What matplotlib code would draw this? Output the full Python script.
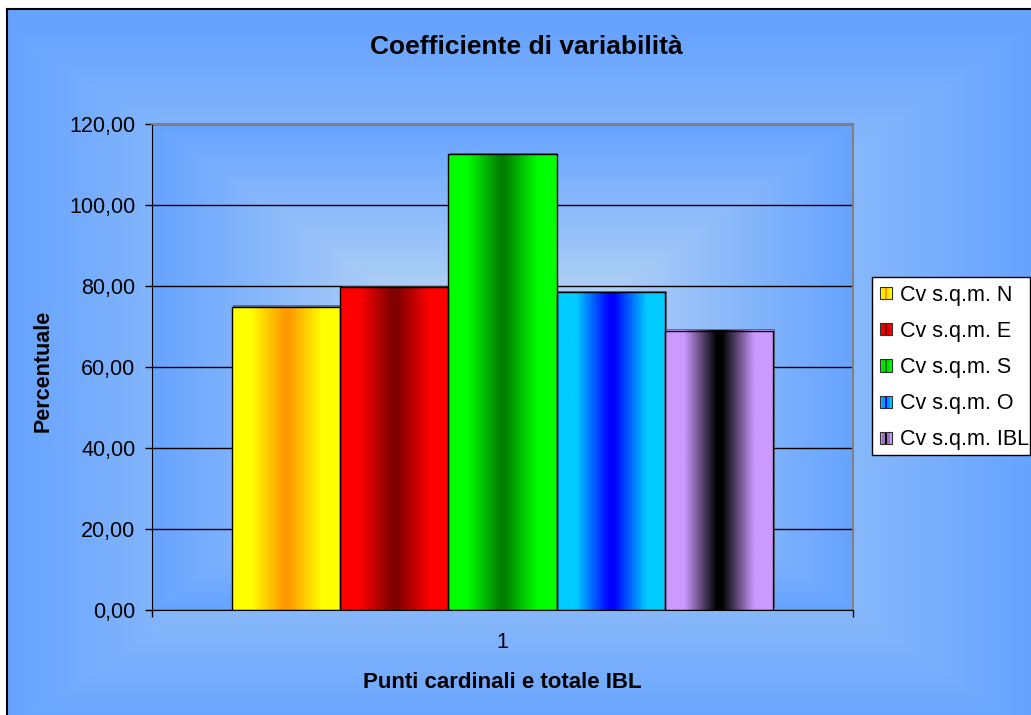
import numpy as np
import matplotlib
matplotlib.use('Agg')
import matplotlib.pyplot as plt
import matplotlib.colors as mcolors
import matplotlib.patheffects as pe
from matplotlib.legend_handler import HandlerBase
from matplotlib.patches import Patch, Rectangle
from matplotlib.ticker import FuncFormatter

# data
series = ['Cv s.q.m. N', 'Cv s.q.m. E', 'Cv s.q.m. S', 'Cv s.q.m. O', 'Cv s.q.m. IBL']
values = [74.8, 79.7, 112.5, 78.4, 68.9]
category = ['1']
yticks = [0, 20, 40, 60, 80, 100, 120]
edge_cols = ['#FFFF00', '#FF0000', '#00FF00', '#00CCFF', '#CC99FF']
mid_cols = ['#FF9900', '#800000', '#008000', '#0000FF', '#000000']

plt.rcParams['font.family'] = ['Liberation Sans', 'DejaVu Sans']

W, H = 1031, 715
fig = plt.figure(figsize=(W / 100, H / 100), dpi=100)
fig.patch.set_facecolor('white')


def box_gradient(w, h, inner, outer, cx=None, cy=None):
    # Excel-like "from centre" fill: rectangular contours
    cx = w / 2 if cx is None else cx
    cy = h / 2 if cy is None else cy
    yy, xx = np.mgrid[0:h, 0:w] + 0.5
    r = np.maximum(np.abs(xx - cx) / (w / 2), np.abs(yy - cy) / (h / 2))
    r = np.clip(r, 0, 1)[..., None]
    a = np.array(mcolors.to_rgb(inner))
    b = np.array(mcolors.to_rgb(outer))
    return a * (1 - r) + b * r


def bar_gradient(edge, mid, n=200):
    u = np.linspace(0, 1, n)
    t = np.clip((np.abs(u - 0.5) * 2 - 0.05) / 0.6, 0, 1)[:, None]
    a = np.array(mcolors.to_rgb(mid))
    b = np.array(mcolors.to_rgb(edge))
    return (a * (1 - t) + b * t)[None, :, :]


# chart area background
bg = fig.add_axes([0, 0, 1, 1], zorder=-10)
bg.set_xlim(0, W)
bg.set_ylim(H, 0)
bg.axis('off')
bg.imshow(box_gradient(W - 7, H - 9, '#C8E0F4', '#66A3FF', cy=371),
          extent=[7, W, H, 9], aspect='auto', interpolation='bilinear')
bg.plot([7, 7], [H + 5, 9], color='black', lw=1.5)
bg.plot([7, W + 5], [9, 9], color='black', lw=1.5)
# legend box (the legend runs into the right edge of the picture)
bg.add_patch(Rectangle((872, 277), 158, 178, facecolor='white', edgecolor='black', lw=1, zorder=5))

# plot area
ax = fig.add_axes([152 / W, (H - 610) / H, 701 / W, 486 / H])
ax.imshow(box_gradient(701, 486, '#D0E4F2', '#66A3FF'),
          extent=[0.5, 1.5, 0, 120], aspect='auto', zorder=0, interpolation='bilinear')

bw = 0.1546
x = 1 + (np.arange(len(values)) - 2) * bw
shadow = [pe.SimplePatchShadow(offset=(1.2, 1.2), shadow_rgbFace='#505050', alpha=0.7), pe.Normal()]
bars = ax.bar(x, values, bw, color=mid_cols, zorder=2, path_effects=shadow)
for b, e, m in zip(bars, edge_cols, mid_cols):
    ext = [b.get_x(), b.get_x() + b.get_width(), 0, b.get_height()]
    ax.imshow(bar_gradient(e, m), extent=ext, aspect='auto', zorder=2.1, interpolation='bilinear')
ax.bar(x, values, bw, facecolor='none', edgecolor='black', lw=1, zorder=3)

ax.set_xlim(0.5, 1.5)
ax.set_ylim(0, 120)
ax.set_yticks(yticks)
ax.yaxis.set_major_formatter(FuncFormatter(lambda v, p: f'{v:.2f}'.replace('.', ',')))
ax.grid(axis='y', color='black', lw=1)
ax.set_axisbelow(True)
ax.set_xticks([1])
ax.set_xticklabels(category)
ax.set_xticks([0.5, 1.5], minor=True)
ax.tick_params(axis='y', direction='out', length=5, width=1, labelsize=15.5, pad=7)
ax.tick_params(axis='x', which='major', length=0, labelsize=15.5, pad=16)
ax.tick_params(axis='x', which='minor', direction='out', length=5, width=1)
for s in ['left', 'bottom']:
    ax.spines[s].set_color('black')
for s in ['top', 'right']:
    ax.spines[s].set_color('#808080')
    ax.spines[s].set_linewidth(1.5)

# texts
fig.text(526 / W, 1 - 47 / H, 'Coefficiente di variabilità', ha='center', va='center',
         fontsize=19, fontweight='bold')
fig.text(43 / W, 1 - 371 / H, 'Percentuale', ha='center', va='center', rotation=90,
         fontsize=15.5, fontweight='bold')
fig.text(502 / W, 1 - 683 / H, 'Punti cardinali e totale IBL', ha='center', va='center',
         fontsize=16, fontweight='bold')


class StripeHandler(HandlerBase):
    def __init__(self, edge, mid):
        super().__init__()
        self.edge, self.mid = edge, mid

    def create_artists(self, legend, orig_handle, xdescent, ydescent, width, height, fontsize, trans):
        g = bar_gradient(self.edge, self.mid, n=5)[0]
        arts = []
        s = min(width, height)
        x0 = -xdescent + (width - s) / 2
        y0 = -ydescent + (height - s) / 2
        for i, c in enumerate(g):
            arts.append(Rectangle((x0 + i * s / 5, y0), s / 5, s, facecolor=c, lw=0, transform=trans))
        arts.append(Rectangle((x0, y0), s, s, facecolor='none', edgecolor='#303030', lw=0.8, transform=trans))
        return arts


handles = [Patch(label=s) for s in series]
hmap = {h: StripeHandler(e, m) for h, e, m in zip(handles, edge_cols, mid_cols)}
leg = fig.legend(handles=handles, labels=series, handler_map=hmap, loc='upper left',
                 bbox_to_anchor=(872 / W, 1 - 277 / H), bbox_transform=fig.transFigure,
                 borderaxespad=0, fontsize=15.5, frameon=False,
                 handlelength=0.56, handleheight=0.56, handletextpad=0.35,
                 labelspacing=0.7, borderpad=0.37)
leg.set_zorder(10)

fig.savefig('out.png', dpi=100)
